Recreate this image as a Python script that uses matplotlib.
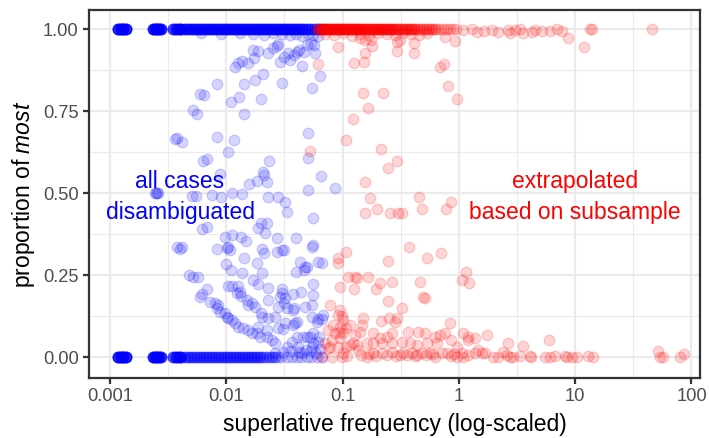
import numpy as np
import matplotlib
matplotlib.use("Agg")
import matplotlib.pyplot as plt
from matplotlib.ticker import FixedLocator, FixedFormatter

plt.rcParams["font.family"] = ["Liberation Sans", "DejaVu Sans"]
plt.rcParams["mathtext.fontset"] = "custom"
plt.rcParams["mathtext.rm"] = "Liberation Sans"
plt.rcParams["mathtext.it"] = "Liberation Sans:italic"

BLUE, RED = "#0000FF", "#FF0000"

# ---- fully disambiguated superlatives (blue) ----
# proportion == 1 : frequency and number of stacked cases
blue_top_x = [0.00118, 0.00124, 0.0013, 0.00136,
              0.00235, 0.00245, 0.00254, 0.00265, 0.00275,
              0.0035, 0.0037, 0.0039, 0.0041,
              0.0044, 0.0047, 0.0050, 0.0053, 0.0056, 0.0059, 0.0063, 0.0067,
              0.0071, 0.0075, 0.0080, 0.0085, 0.0090, 0.0096, 0.0102, 0.0108,
              0.0115, 0.0122, 0.0128, 0.0137, 0.0145, 0.0154, 0.0164, 0.0173,
              0.0182, 0.0195, 0.0207, 0.0220, 0.0233, 0.0247, 0.0262, 0.0278,
              0.0296, 0.0313, 0.0334, 0.0353, 0.0375, 0.0397, 0.0418, 0.0448,
              0.0475, 0.0505, 0.0536, 0.0568, 0.0602, 0.0640, 0.0680]
blue_top_n = [9, 10, 10, 9,
              7, 8, 9, 8, 7,
              6, 7, 7, 6,
              5, 5, 5, 5, 5, 5, 5, 5,
              5, 5, 5, 5, 5, 5, 5, 5,
              5, 5, 5, 5, 5, 5, 5, 5,
              5, 5, 5, 5, 5, 5, 5, 5,
              5, 5, 5, 5, 5, 5, 5, 4,
              4, 4, 3, 3, 3, 2, 1]
# a few stacked just under 1 (large denominators)
blue_near1_x = [0.0060, 0.0090, 0.0130, 0.0170, 0.0210, 0.0250, 0.0300, 0.0350,
                0.0400, 0.0450, 0.0500, 0.0560, 0.0620]
blue_near1_y = [0.988, 0.985, 0.988, 0.985, 0.982, 0.988, 0.985, 0.982,
                0.985, 0.979, 0.985, 0.982, 0.979]

# proportion == 0
blue_bot_x = [0.00118, 0.00124, 0.0013, 0.00136,
              0.00235, 0.00245, 0.00254, 0.00265, 0.00275,
              0.0035, 0.0037, 0.0039, 0.0041,
              0.0044, 0.0047, 0.0050, 0.0053, 0.0056, 0.0059, 0.0063, 0.0067,
              0.0071, 0.0075, 0.0080, 0.0085, 0.0090, 0.0096, 0.0102, 0.0108,
              0.0115, 0.0122, 0.0128, 0.0137, 0.0145, 0.0154, 0.0164, 0.0173,
              0.0182, 0.0195, 0.0207, 0.0220, 0.0233, 0.0247, 0.0262, 0.0278,
              0.0296, 0.0330, 0.0370, 0.0405, 0.0440, 0.0490, 0.0540, 0.0600, 0.0660]
blue_bot_n = [9, 10, 10, 9,
              7, 8, 8, 7, 6,
              5, 7, 7, 5,
              3, 3, 3, 3, 3, 3, 3, 3,
              3, 3, 3, 3, 3, 3, 3, 3,
              3, 3, 3, 3, 3, 3, 3, 3,
              3, 3, 2, 2, 2, 2, 2, 1,
              1, 1, 1, 1, 1, 1, 1, 1, 1]

# everything in between
blue_mid_x = [0.0083, 0.0059, 0.0064, 0.0052, 0.0056, 0.0036, 0.0038, 0.0042, 0.0083,
              0.0063, 0.0068, 0.0088, 0.00245, 0.0025, 0.00255, 0.0026, 0.0051,
              0.0055, 0.0075, 0.0090,
              0.0119, 0.0126, 0.0137, 0.0154, 0.0173, 0.0170, 0.0186, 0.0229, 0.0251,
              0.0272, 0.0278, 0.0290, 0.0313, 0.0340, 0.0353, 0.0381, 0.0402, 0.0418,
              0.0465, 0.0494, 0.0536, 0.0448, 0.0579, 0.0568,
              0.0142, 0.0177, 0.0207, 0.0301, 0.0640, 0.0545, 0.0110, 0.0128, 0.0199,
              0.0142, 0.0117, 0.0103, 0.0505, 0.0233, 0.0505, 0.0207, 0.0211, 0.0224,
              0.0182, 0.0157, 0.0652, 0.0112, 0.0137, 0.0229, 0.0278, 0.0505, 0.0861,
              0.0062, 0.0068, 0.0038, 0.0040, 0.0042, 0.0083, 0.0098, 0.0102, 0.0100,
              0.0048, 0.0052, 0.0057, 0.0068, 0.0062, 0.0059, 0.0072, 0.0080, 0.0085,
              0.0083, 0.0088, 0.0098, 0.0103,
              0.0320, 0.0334, 0.0557, 0.0199, 0.0224, 0.0186, 0.0215, 0.0112, 0.0134,
              0.0148, 0.0272, 0.0397, 0.0103, 0.0108, 0.0203, 0.0211, 0.0272, 0.0301,
              0.0313, 0.0557, 0.0142, 0.0182, 0.0431, 0.0475, 0.0466, 0.0494, 0.0614,
              0.0665, 0.0397, 0.0110, 0.0137, 0.0170, 0.0186, 0.0203, 0.0557, 0.0103,
              0.0112, 0.0126, 0.0131, 0.0124, 0.0134, 0.0229, 0.0301, 0.0301, 0.0290,
              0.0320, 0.0313, 0.0278, 0.0334, 0.0375, 0.0440, 0.0151, 0.0166, 0.0154,
              0.0177, 0.0229, 0.0381, 0.0475, 0.0545, 0.0199, 0.0203, 0.0229, 0.0262,
              0.0320, 0.0390,
              0.0102, 0.0112, 0.0119, 0.0126, 0.0140, 0.0154, 0.0166, 0.0182, 0.0195,
              0.0224, 0.0248, 0.0262, 0.0278, 0.0307, 0.0334, 0.0367, 0.0402, 0.0457,
              0.0494, 0.0525, 0.0557, 0.0627, 0.0679, 0.0665, 0.0602,
              0.0560, 0.0375, 0.0402, 0.0375, 0.0545, 0.0620, 0.0545, 0.0410, 0.0448,
              0.0614, 0.0557, 0.0545, 0.0186, 0.0224,
              0.0260, 0.0310, 0.0360, 0.0420, 0.0480, 0.0530, 0.0590, 0.0640]
blue_mid_y = [0.832, 0.802, 0.799, 0.753, 0.741, 0.665, 0.668, 0.655, 0.671,
              0.598, 0.604, 0.558, 0.500, 0.500, 0.500, 0.500, 0.491,
              0.491, 0.494, 0.488,
              0.884, 0.896, 0.902, 0.896, 0.912, 0.936, 0.933, 0.927, 0.942,
              0.948, 0.954, 0.899, 0.915, 0.927, 0.905, 0.921, 0.930, 0.936,
              0.930, 0.951, 0.957, 0.887, 0.927, 0.951,
              0.832, 0.845, 0.863, 0.835, 0.857, 0.820, 0.777, 0.793, 0.787,
              0.741, 0.662, 0.625, 0.683, 0.598, 0.607, 0.564, 0.555, 0.534,
              0.537, 0.527, 0.552, 0.500, 0.497, 0.488, 0.488, 0.509, 0.515,
              0.390, 0.396, 0.335, 0.329, 0.335, 0.329, 0.366, 0.332, 0.284,
              0.250, 0.244, 0.244, 0.207, 0.192, 0.183, 0.168, 0.165, 0.159,
              0.149, 0.137, 0.134, 0.119,
              0.473, 0.442, 0.424, 0.409, 0.409, 0.393, 0.378, 0.372, 0.366,
              0.354, 0.363, 0.363, 0.335, 0.326, 0.329, 0.317, 0.320, 0.326,
              0.326, 0.341, 0.302, 0.287, 0.290, 0.274, 0.265, 0.274, 0.290,
              0.287, 0.259, 0.265, 0.256, 0.235, 0.223, 0.256, 0.223, 0.216,
              0.216, 0.216, 0.198, 0.195, 0.186, 0.210, 0.207, 0.195, 0.183,
              0.180, 0.165, 0.152, 0.149, 0.192, 0.198, 0.174, 0.165, 0.159,
              0.152, 0.174, 0.149, 0.152, 0.159, 0.134, 0.122, 0.119, 0.122,
              0.104, 0.104,
              0.122, 0.113, 0.104, 0.091, 0.088, 0.082, 0.073, 0.073, 0.061,
              0.061, 0.052, 0.043, 0.088, 0.085, 0.030, 0.046, 0.061, 0.061,
              0.061, 0.061, 0.073, 0.061, 0.128, 0.116, 0.107,
              0.189, 0.143, 0.107, 0.098, 0.122, 0.116, 0.335, 0.030, 0.012,
              0.046, 0.043, 0.030, 0.091, 0.082,
              0.012, 0.015, 0.018, 0.015, 0.021, 0.018, 0.012, 0.024]

# ---- proportions extrapolated from a subsample (red) ----
red_top_x = [0.0614, 0.0652, 0.0692, 0.0735, 0.0780, 0.0827, 0.0877, 0.0932,
             0.0988, 0.105, 0.111, 0.118, 0.125, 0.133, 0.141, 0.150, 0.159,
             0.169, 0.179, 0.190, 0.201, 0.214, 0.227, 0.240, 0.256, 0.271,
             0.288, 0.306, 0.325, 0.344, 0.366, 0.388, 0.412, 0.437, 0.463,
             0.493, 0.523, 0.555, 0.589, 0.624, 0.663, 0.703, 0.747, 0.792,
             0.838, 0.893, 0.946]
red_top_n = [3, 4, 5, 5, 5, 5, 5, 5,
             5, 5, 5, 5, 5, 5, 5, 4, 4,
             4, 4, 4, 4, 4, 4, 4, 4, 4,
             3, 3, 3, 3, 3, 3, 3, 2, 2,
             2, 2, 2, 2, 2, 1, 1, 1, 1,
             1, 1, 1]
red_near1_x = [0.070, 0.085, 0.100, 0.120, 0.140, 0.170, 0.200, 0.240, 0.280,
               0.330, 0.390, 0.450, 0.530]
red_near1_y = [0.985, 0.982, 0.988, 0.979, 0.985, 0.982, 0.988, 0.985, 0.982,
               0.988, 0.985, 0.982, 0.988]

red_mid_x = [1.08, 1.30, 1.43, 1.63, 1.92, 2.16, 2.66, 2.75, 3.03, 3.35, 3.55, 4.26,
             4.51, 5.23, 6.07, 6.95, 7.70, 8.66, 11.8, 13.4, 13.9, 45.6,
             0.0614, 0.0916, 0.125, 0.123, 0.108, 0.0525,
             0.141, 0.156, 0.176, 0.180, 0.153, 0.156, 0.294, 0.312, 0.294, 0.408,
             0.408, 0.688, 0.740, 0.800, 0.963, 0.925, 0.759,
             0.150, 0.224, 0.165, 0.215, 0.294, 0.245, 0.156, 0.172, 0.451, 0.863,
             0.196, 0.156, 0.256, 0.300, 0.325, 0.482, 0.774,
             0.108, 0.247, 0.373, 0.532, 0.703, 0.128, 0.133, 0.165, 0.125, 0.210,
             0.194, 0.265, 0.463, 0.247, 0.325, 0.493, 0.512, 1.07, 1.15, 1.22,
             0.150, 0.147, 0.215, 0.251, 0.294, 0.282, 0.116, 0.108, 0.0988, 0.0951,
             0.838, 0.128, 0.141, 0.116, 0.133, 0.123, 0.181, 0.210, 0.240, 0.265,
             0.365, 0.442, 0.512, 0.624, 0.688, 0.759, 1.08, 1.20, 0.162, 0.181,
             0.218, 0.265, 0.325, 0.380, 0.432, 0.532, 0.648, 0.863, 0.963,
             0.0913, 0.0913, 0.0780, 0.0951, 0.0913, 0.101, 0.0827, 0.0746, 0.0951,
             0.0861, 0.101, 0.0951, 0.0706, 0.0780, 0.0913, 0.108, 0.111, 0.0951,
             0.0810, 0.0746,
             1.20, 1.37, 1.76, 2.66, 3.55, 5.96,
             0.101, 0.135, 0.162, 0.181, 0.218, 0.265, 0.312, 0.358, 0.395, 0.432,
             0.482, 0.565, 0.624, 0.717, 0.790, 0.963, 1.08, 1.20,
             1.06, 1.37, 1.45, 1.58, 1.67, 1.96, 2.16, 2.38, 2.59, 2.75, 2.92, 3.35,
             4.08, 4.17, 5.50, 6.07, 6.70, 8.17, 8.50, 9.39, 10.4, 12.9, 14.2,
             52.0, 53.6, 57.0, 80.0, 86.0,
             0.0665, 0.0810, 0.0988, 0.110, 0.145, 0.170, 0.195, 0.240, 0.290,
             0.330, 0.420, 0.520, 0.600, 0.850, 0.900]
red_mid_y = [0.997, 1.000, 0.991, 0.994, 0.997, 0.991, 0.997, 0.988, 0.997, 1.000, 0.988, 0.991,
             0.997, 0.994, 0.994, 1.000, 0.994, 0.973, 0.945, 1.000, 1.000, 1.000,
             0.893, 0.945, 0.896, 0.726, 0.662, 0.628,
             0.973, 0.966, 0.966, 0.948, 0.899, 0.927, 0.960, 0.966, 0.933, 0.957,
             0.927, 0.884, 0.893, 0.826, 0.787, 0.963, 0.976,
             0.805, 0.805, 0.759, 0.634, 0.598, 0.576, 0.534, 0.485, 0.488, 0.473,
             0.451, 0.439, 0.439, 0.439, 0.439, 0.451, 0.451,
             0.320, 0.293, 0.335, 0.302, 0.317, 0.244, 0.241, 0.244, 0.207, 0.226,
             0.207, 0.229, 0.229, 0.171, 0.149, 0.183, 0.180, 0.235, 0.259, 0.226,
             0.119, 0.098, 0.110, 0.119, 0.119, 0.107, 0.098, 0.088, 0.125, 0.076,
             0.104, 0.067, 0.076, 0.037, 0.037, 0.043, 0.073, 0.058, 0.061, 0.073,
             0.076, 0.076, 0.073, 0.061, 0.067, 0.073, 0.073, 0.061, 0.043, 0.043,
             0.043, 0.043, 0.046, 0.043, 0.037, 0.043, 0.043, 0.052, 0.030,
             0.302, 0.287, 0.159, 0.143, 0.128, 0.113, 0.098, 0.082, 0.091,
             0.073, 0.073, 0.058, 0.043, 0.030, 0.030, 0.030, 0.244, 0.213,
             0.052, 0.027,
             0.052, 0.058, 0.067, 0.043, 0.034, 0.052,
             0.012, 0.021, 0.000, 0.012, 0.012, 0.015, 0.006, 0.006, 0.012, 0.006,
             0.012, 0.012, 0.000, 0.012, 0.012, 0.000, 0.000, 0.006,
             0.012, 0.012, 0.021, 0.012, 0.012, 0.000, 0.000, 0.015, 0.006, 0.000, 0.000, 0.003,
             0.003, 0.000, 0.000, 0.000, 0.003, 0.003, 0.000, 0.000, 0.000, 0.003, 0.000,
             0.018, 0.000, 0.000, 0.000, 0.009,
             0.000, 0.000, 0.000, 0.003, 0.006, 0.009, 0.003, 0.006, 0.003,
             0.012, 0.003, 0.006, 0.009, 0.003, 0.009]

x_breaks = [0.001, 0.01, 0.1, 1, 10, 100]
x_labels = ["0.001", "0.01", "0.1", "1", "10", "100"]
y_breaks = [0.0, 0.25, 0.5, 0.75, 1.0]
y_labels = ["0.00", "0.25", "0.50", "0.75", "1.00"]


def stacked(x, n, y):
    x = np.repeat(np.asarray(x, float), n)
    return x, np.full(len(x), y)


def loose(x, y):
    return np.asarray(x, float), np.asarray(y, float)


fig = plt.figure(figsize=(709 / 150, 438 / 150), dpi=150)
ax = fig.add_axes([89 / 709, 1 - 378 / 438, 611 / 709, 368 / 438])

style = dict(s=26, alpha=0.17, linewidths=0.6, zorder=3)
layers = [(stacked(blue_top_x, blue_top_n, 1.0), BLUE),
          (loose(blue_near1_x, blue_near1_y), BLUE),
          (stacked(blue_bot_x, blue_bot_n, 0.0), BLUE),
          (loose(blue_mid_x, blue_mid_y), BLUE),
          (stacked(red_top_x, red_top_n, 1.0), RED),
          (loose(red_near1_x, red_near1_y), RED),
          (loose(red_mid_x, red_mid_y), RED)]
for (x, y), col in layers:
    ax.scatter(x, y, color=col, edgecolors=col, **style)

ax.text(0.004, 0.488, "all cases\ndisambiguated", color=BLUE, fontsize=11,
        ha="center", va="center", linespacing=1.45, zorder=4)
ax.text(10, 0.488, "extrapolated\nbased on subsample", color=RED, fontsize=11,
        ha="center", va="center", linespacing=1.45, zorder=4)

ax.set_xscale("log")
ax.set_xlim(10 ** -3.1806, 10 ** 2.0731)
ax.set_ylim(-0.064, 1.059)
ax.xaxis.set_major_locator(FixedLocator(x_breaks))
ax.xaxis.set_major_formatter(FixedFormatter(x_labels))
ax.xaxis.set_minor_locator(FixedLocator([10 ** e for e in (-2.5, -1.5, -0.5, 0.5, 1.5)]))
ax.yaxis.set_major_locator(FixedLocator(y_breaks))
ax.yaxis.set_major_formatter(FixedFormatter(y_labels))
ax.yaxis.set_minor_locator(FixedLocator([0.125, 0.375, 0.625, 0.875]))

ax.set_axisbelow(True)
ax.grid(which="major", color="#EBEBEB", lw=1.07)
ax.grid(which="minor", color="#EBEBEB", lw=0.53)
for sp in ax.spines.values():
    sp.set_color("#333333")
    sp.set_linewidth(1.07)
ax.tick_params(which="major", length=2.75, width=1.07, color="#333333",
               labelsize=8.8, labelcolor="#4D4D4D", pad=2.2)
ax.tick_params(which="minor", length=0)

ax.set_xlabel("superlative frequency (log-scaled)", fontsize=11, labelpad=3.5)
ax.set_ylabel(r"proportion of $\mathit{most}$", fontsize=11, labelpad=2.75)

fig.savefig("out.png", dpi=150, facecolor="white")
